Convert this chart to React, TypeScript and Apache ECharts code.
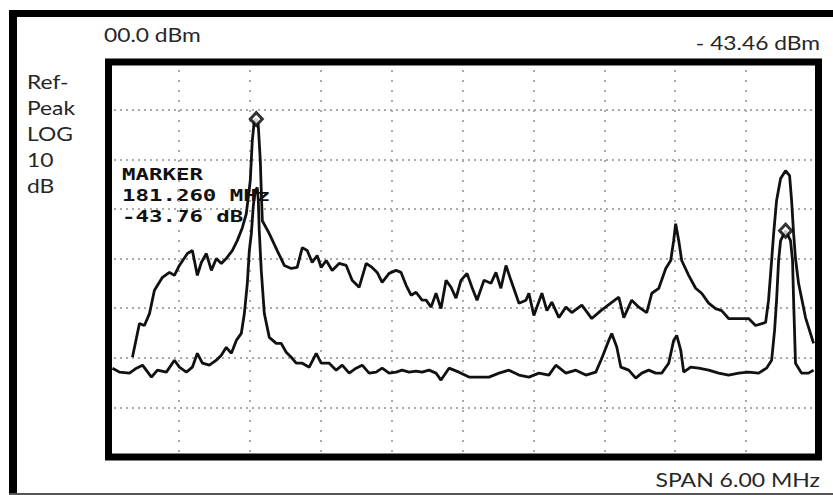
import { useEffect, useRef } from "react";
import * as echarts from "echarts";

// Frequency offset within the 6 MHz span (MHz) and level (dBm)
const upperFreq = [0.207,0.266,0.308,0.351,0.393,0.461,0.520,0.562,0.604,0.672,
  0.714,0.756,0.790,0.832,0.875,0.917,0.959,1.001,1.052,1.094,
  1.137,1.170,1.204,1.221,1.238,1.255,1.272,1.289,1.297,1.306,
  1.365,1.432,1.492,1.551,1.601,1.644,1.686,1.728,1.770,1.804,
  1.847,1.897,1.956,2.016,2.066,2.125,2.185,2.235,2.278,2.320,
  2.379,2.438,2.480,2.523,2.565,2.607,2.658,2.692,2.734,2.776,
  2.818,2.861,2.903,2.945,2.987,3.038,3.080,3.123,3.182,3.241,
  3.283,3.325,3.368,3.410,3.478,3.537,3.562,3.604,3.672,3.714,
  3.756,3.816,3.875,3.925,4.010,4.094,4.171,4.255,4.323,4.365,
  4.432,4.492,4.559,4.602,4.661,4.720,4.762,4.787,4.804,4.830,
  4.855,4.914,4.973,5.024,5.083,5.142,5.193,5.252,5.337,5.421,
  5.480,5.565,5.590,5.616,5.633,5.658,5.692,5.734,5.768,5.785,
  5.802,5.818,5.844,5.903,5.971];
const upperLevel = [-59.9,-53.1,-53.5,-51.1,-46.4,-43.8,-42.8,-43.4,-41.4,-39.0,
  -38.4,-43.4,-40.8,-39.0,-42.4,-40.0,-41.0,-40.0,-38.4,-36.4,
  -33.8,-31.0,-24.3,-16.3,-12.3,-11.9,-13.3,-20.3,-26.3,-32.4,
  -35.0,-38.4,-41.4,-42.0,-41.8,-37.8,-38.4,-40.8,-39.4,-41.8,
  -40.4,-42.4,-41.0,-41.4,-44.4,-45.8,-41.0,-41.8,-42.8,-44.8,
  -43.0,-42.4,-42.8,-45.4,-47.4,-46.8,-48.4,-48.4,-49.8,-47.0,
  -50.1,-44.4,-45.8,-48.0,-44.4,-43.0,-45.8,-48.4,-44.4,-45.0,
  -42.8,-46.0,-41.4,-44.4,-49.0,-48.4,-47.0,-51.5,-47.0,-50.5,
  -48.8,-51.9,-49.8,-50.9,-49.4,-52.1,-50.5,-49.0,-47.8,-51.9,
  -48.4,-49.8,-50.9,-47.0,-46.0,-42.0,-40.4,-36.4,-33.0,-36.4,
  -40.4,-43.4,-46.0,-47.0,-49.0,-50.1,-50.5,-52.1,-52.1,-52.1,
  -53.5,-52.9,-48.4,-40.4,-35.0,-28.3,-23.9,-22.3,-23.3,-28.3,
  -35.0,-40.0,-45.0,-51.9,-57.1];

const lowerFreq = [0.038,0.097,0.182,0.241,0.292,0.368,0.418,0.494,0.562,0.604,
  0.663,0.714,0.756,0.799,0.858,0.917,0.959,1.001,1.044,1.086,
  1.128,1.154,1.179,1.196,1.213,1.230,1.246,1.263,1.272,1.280,
  1.297,1.323,1.365,1.424,1.466,1.508,1.551,1.593,1.644,1.703,
  1.762,1.804,1.872,1.931,1.982,2.041,2.100,2.151,2.210,2.269,
  2.320,2.379,2.438,2.489,2.548,2.607,2.658,2.717,2.776,2.818,
  2.886,2.970,3.055,3.140,3.224,3.309,3.393,3.478,3.562,3.647,
  3.731,3.790,3.875,3.959,4.044,4.128,4.179,4.238,4.263,4.306,
  4.340,4.407,4.466,4.517,4.576,4.635,4.686,4.745,4.787,4.813,
  4.847,4.872,4.931,4.999,5.083,5.168,5.252,5.337,5.421,5.506,
  5.573,5.616,5.641,5.658,5.675,5.692,5.734,5.776,5.793,5.802,
  5.818,5.869,5.928,5.971];
const lowerLevel = [-62.1,-62.9,-63.1,-62.1,-61.5,-63.9,-62.5,-62.9,-60.5,-61.9,
  -62.9,-61.9,-59.1,-61.1,-61.5,-60.5,-59.5,-57.9,-59.1,-56.5,
  -55.1,-51.1,-45.0,-38.4,-35.0,-29.3,-26.3,-25.7,-28.3,-34.4,
  -42.4,-51.1,-55.9,-57.1,-57.1,-58.9,-59.9,-61.1,-61.1,-61.9,
  -59.1,-61.1,-61.1,-62.5,-61.5,-63.1,-62.1,-61.5,-63.1,-62.9,
  -62.1,-63.1,-62.9,-62.5,-62.9,-62.7,-62.9,-62.5,-63.1,-64.5,
  -62.1,-62.9,-63.9,-63.9,-63.9,-63.1,-62.5,-63.5,-63.9,-63.1,
  -63.5,-61.5,-63.1,-62.5,-63.5,-62.9,-60.1,-56.5,-55.1,-57.9,
  -61.9,-62.5,-64.1,-63.1,-62.5,-63.1,-63.1,-61.1,-56.5,-55.5,
  -58.5,-62.9,-61.9,-62.1,-62.5,-63.1,-63.5,-63.1,-62.9,-63.1,
  -62.1,-60.5,-54.5,-48.4,-40.4,-36.4,-34.4,-36.4,-40.4,-48.4,
  -61.1,-63.1,-63.1,-62.5];

const markerFreq = [1.255, 5.734];
const markerLevel = [-11.9, -34.4];

const spanMHz = 6;
const xDivisions = 10;
const refLevel = 0;
const dbPerDiv = 10;
const yDivisions = 8;

const refText = "00.0 dBm";
const readoutText = "- 43.46 dBm";
const sideLabels = ["Ref-", "Peak", "LOG", "10", "dB"];
const markerLines = ["MARKER", "181.260 MHz", "-43.76 dB"];
const spanText = "SPAN 6.00 MHz";

export default function App() {
  const ref = useRef<HTMLDivElement>(null);
  useEffect(() => {
    const chart = echarts.init(ref.current!, null, { renderer: "svg" });
    const labelFont = "19px Lato, 'Open Sans', sans-serif";
    const txt = (text: string, x: number, y: number, align: string, font: string, sx: number, fill = "#262626", z = 20) => ({
      type: "text",
      x, y, scaleX: sx, z,
      style: { text, font, fill, textAlign: align, textVerticalAlign: "middle", verticalAlign: "middle" },
    });
    const graphic: any[] = [
      { type: "line", z: 30, shape: { x1: 9, y1: 13.5, x2: 840, y2: 13.5 }, style: { stroke: "#000", lineWidth: 7 } },
      { type: "line", z: 30, shape: { x1: 13, y1: 10, x2: 13, y2: 495 }, style: { stroke: "#000", lineWidth: 8 } },
      { type: "line", z: 30, shape: { x1: 9, y1: 494, x2: 840, y2: 494 }, style: { stroke: "#555", lineWidth: 2 } },
      { type: "rect", z: 30, shape: { x: 108.5, y: 62, width: 710, height: 395 }, style: { fill: "none", stroke: "#000", lineWidth: 7 } },
      txt(refText, 104, 34, "left", labelFont, 1.2),
      txt(readoutText, 820, 42, "right", labelFont, 1.2),
      txt(spanText, 820, 480, "right", "20px Lato, 'Open Sans', sans-serif", 1.15),
      ...sideLabels.map((s, i) => txt(s, 27, 81 + i * 26, "left", labelFont, 1.2)),
      ...markerLines.map((s, i) =>
        txt(s, 122, 175 + i * 21, "left", "bold 16px 'DejaVu Sans Mono', monospace", 1.4, "#111", 0)),
    ];
    chart.setOption({
      animation: false,
      backgroundColor: "#fff",
      grid: { left: 108, top: 60, width: 709, height: 397, containLabel: false },
      xAxis: {
        type: "value", min: 0, max: spanMHz, interval: spanMHz / xDivisions,
        axisLine: { show: false }, axisTick: { show: false }, axisLabel: { show: false },
        splitLine: { show: true, lineStyle: { color: "#ababab", width: 2, type: [2, 8] } },
      },
      yAxis: {
        type: "value", min: refLevel - dbPerDiv * yDivisions, max: refLevel, interval: dbPerDiv,
        axisLine: { show: false }, axisTick: { show: false }, axisLabel: { show: false },
        splitLine: { show: true, lineStyle: { color: "#ababab", width: 2, type: [2, 4] } },
      },
      graphic,
      series: [
        {
          type: "line", name: "upper", showSymbol: false, z: 3,
          data: upperFreq.map((f, i) => [f, upperLevel[i]]),
          lineStyle: { color: "#111", width: 2.8 },
        },
        {
          type: "line", name: "lower", showSymbol: false, z: 3,
          data: lowerFreq.map((f, i) => [f, lowerLevel[i]]),
          lineStyle: { color: "#111", width: 2.8 },
        },
        {
          type: "scatter", name: "markers", z: 5, symbol: "diamond", symbolSize: [12, 13],
          data: markerFreq.map((f, i) => [f, markerLevel[i]]),
          itemStyle: { color: "#fff", borderColor: "#000", borderWidth: 3 },
        },
      ],
    });
    return () => chart.dispose();
  }, []);
  return (
    <div ref={ref} style={{ position: "fixed", left: 0, top: 0, width: 833, height: 495, background: "#fff" }} />
  );
}
